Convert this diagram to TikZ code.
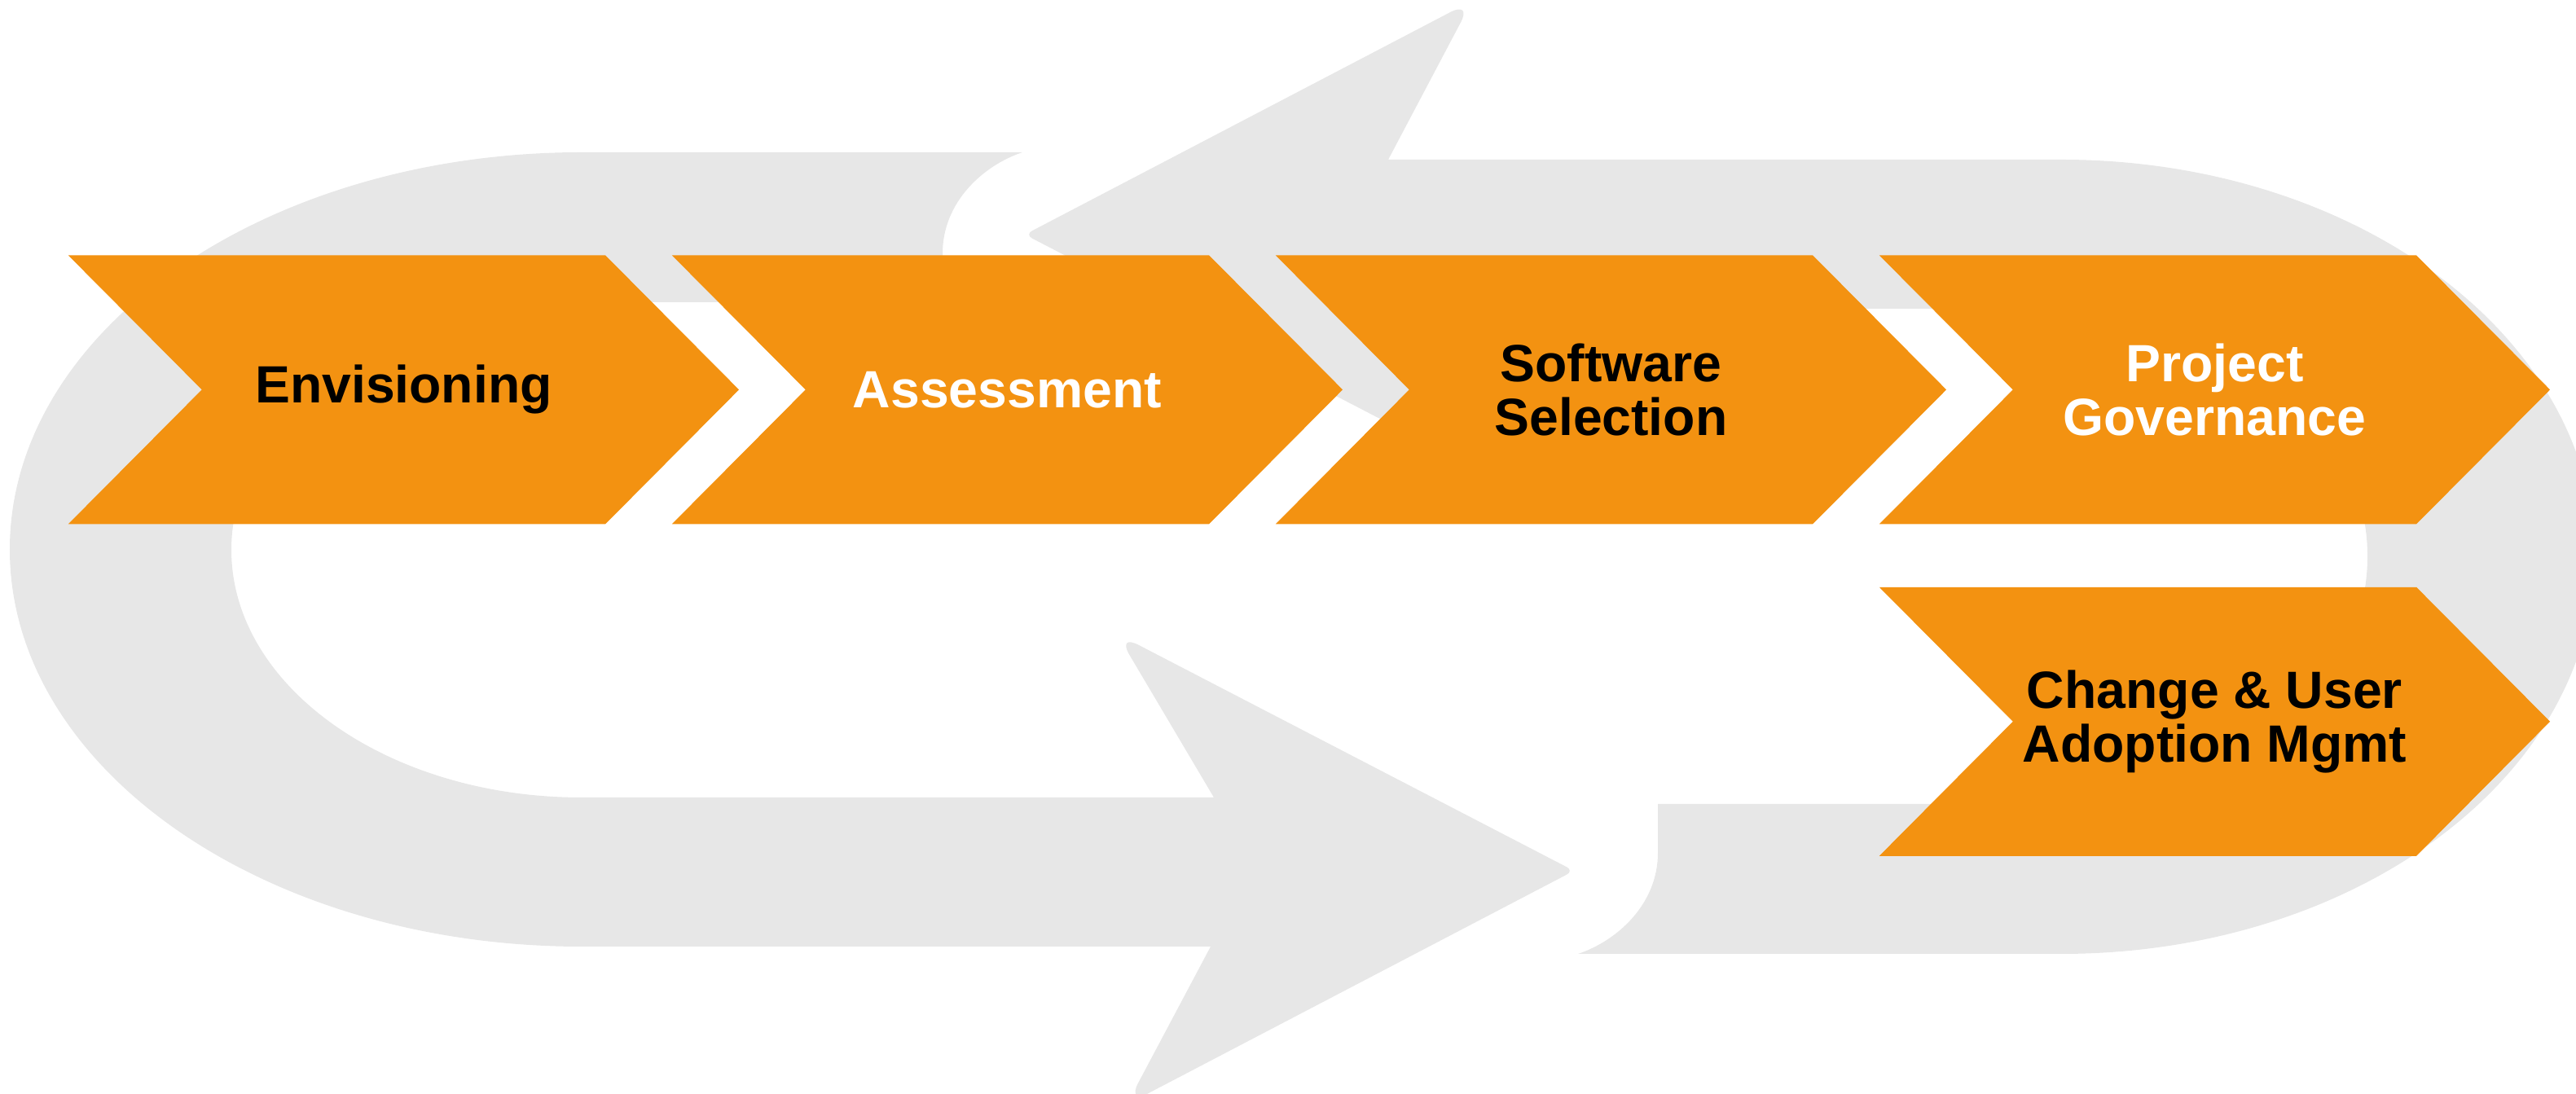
\documentclass[tikz,border=0pt]{standalone}
\usepackage{fontspec}
\setmainfont{Liberation Sans}
\usetikzlibrary{positioning}

\definecolor{loopgray}{RGB}{231,231,231}
\definecolor{stageorange}{RGB}{243,146,17}

\begin{document}
\begin{tikzpicture}[
    stage/.style={rectangle, inner sep=0pt, outer sep=0pt, minimum width=8.233cm, minimum height=3.30cm, align=center,
        font=\bfseries\fontsize{18.3}{18.7}\selectfont,
        path picture={\fill[stageorange] (path picture bounding box.north west)
            -- ([xshift=-1.64cm]path picture bounding box.north east) -- (path picture bounding box.east)
            -- ([xshift=-1.64cm]path picture bounding box.south east) -- (path picture bounding box.south west)
            -- ([xshift=1.64cm]path picture bounding box.west) -- cycle;}},
    cyclearrow/.style={fill=loopgray}
]
\useasboundingbox (0,0) rectangle (31.62,13.43);

% Left loop, running round to the right-pointing head
\fill[cyclearrow] (12.55,11.56) -- (7.14,11.56)
    arc[start angle=90, end angle=270, x radius=7.02, y radius=4.875]
    -- (14.86,1.81) [rounded corners=3mm] -- (13.83,-0.13) [rounded corners=1mm] -- (19.32,2.74)
    [rounded corners=3mm] -- (13.71,5.65) [sharp corners] -- (14.90,3.64)
    -- (7.14,3.64) arc[start angle=270, end angle=90, x radius=4.30, y radius=3.04]
    -- (11.57,9.72) -- (11.57,10.32) .. controls (11.57,10.95) and (12.07,11.40) .. (12.55,11.56) -- cycle;

% Right loop, running round to the left-pointing head
\fill[cyclearrow] (17.04,11.47) -- (25.30,11.47)
    arc[start angle=90, end angle=-90, x radius=6.55, y radius=4.875]
    -- (19.37,1.72) .. controls (19.85,1.88) and (20.35,2.33) .. (20.35,2.96) -- (20.35,3.56)
    -- (25.30,3.56) arc[start angle=-90, end angle=90, x radius=3.76, y radius=3.04]
    -- (17.00,9.64) [rounded corners=3mm] -- (18.19,7.64) [rounded corners=1mm] -- (12.58,10.55)
    [rounded corners=3mm] -- (18.07,13.42) [sharp corners] -- cycle;

% Stages
\node[stage] (envision) at (4.954,8.646) {Envisioning};
\node[stage, text=white, right=-0.823cm of envision] (assess) {Assessment};
\node[stage, right=-0.823cm of assess] (select) {Software\\Selection};
\node[stage, text=white, right=-0.823cm of select] (govern) {Project\\Governance};

% Last stage sits under governance
\node[stage, below=0.774cm of govern] (adopt) {Change \& User\\Adoption Mgmt};

\end{tikzpicture}
\end{document}
